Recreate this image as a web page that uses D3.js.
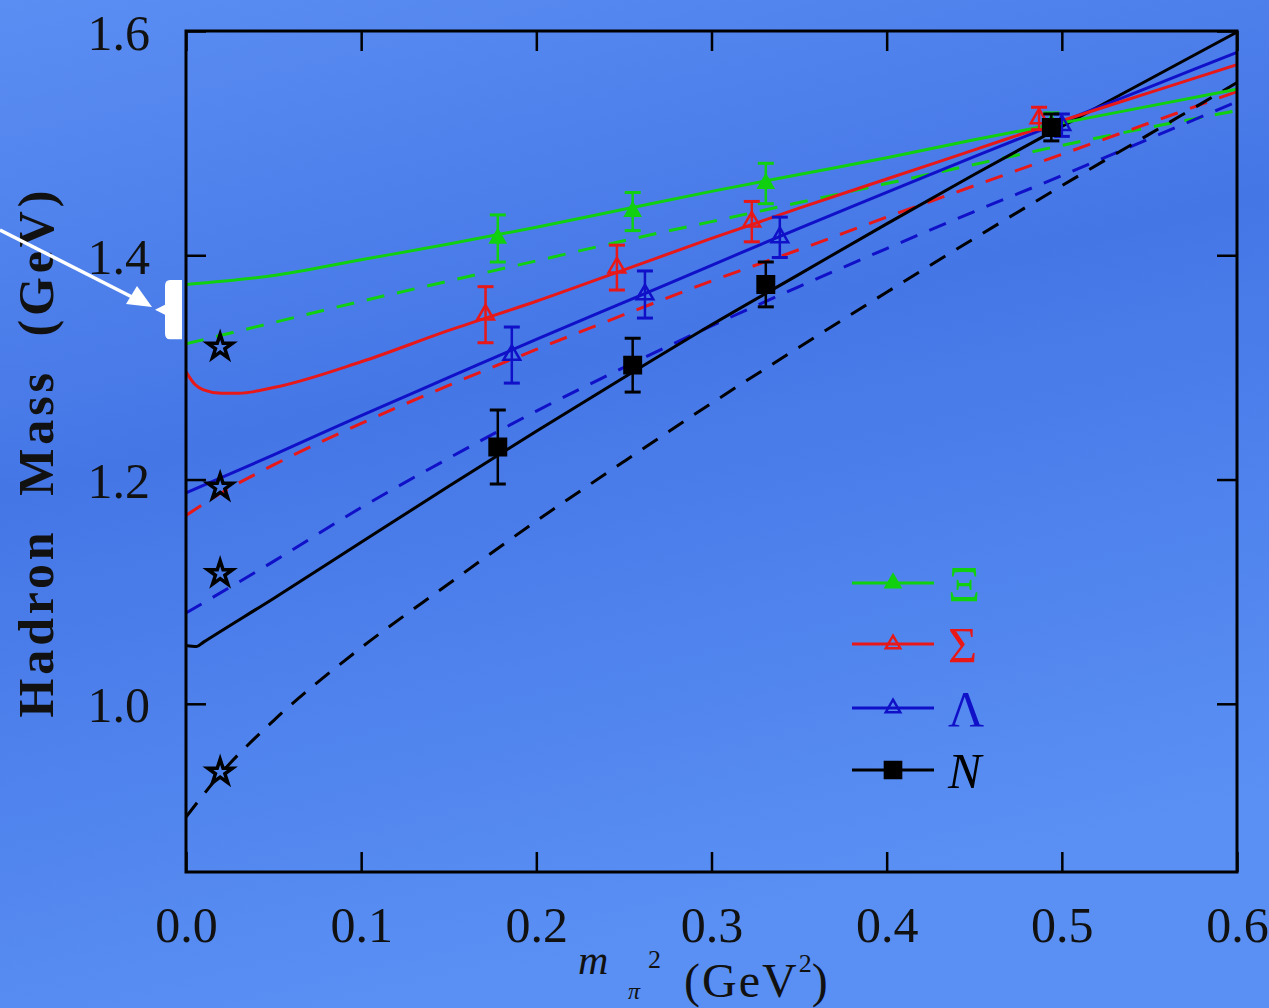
<!DOCTYPE html>
<html>
<head>
<meta charset="utf-8">
<script src="https://cdn.jsdelivr.net/npm/d3@7"></script>
<style>
  html, body { margin: 0; padding: 0; background: #4a7ce9; }
  svg { display: block; }
</style>
</head>
<body>
<div id="chart"></div>
<script>
// ---- data ----
const xTicks = [0.0, 0.1, 0.2, 0.3, 0.4, 0.5, 0.6];
const yTicks = [1.0, 1.2, 1.4, 1.6];

// curves: [m_pi^2, mass]
const xiFull = [[0,1.374],[0.05,1.382],[0.1,1.396],[0.15,1.410],[0.2,1.425],[0.25,1.441],[0.3,1.457],[0.35,1.472],[0.4,1.487],[0.45,1.503],[0.5,1.518],[0.55,1.533],[0.6,1.548]];
const xiDash = [[0,1.321],[0.05,1.340],[0.1,1.359],[0.15,1.377],[0.2,1.395],[0.25,1.413],[0.3,1.430],[0.35,1.447],[0.4,1.464],[0.45,1.481],[0.5,1.498],[0.55,1.514],[0.6,1.529]];
const sigmaFull = [[0,1.296],[0.005,1.285],[0.01,1.280],[0.02,1.277],[0.03,1.277],[0.05,1.282],[0.1,1.305],[0.15,1.333],[0.2,1.359],[0.25,1.387],[0.3,1.415],[0.35,1.442],[0.4,1.468],[0.45,1.494],[0.5,1.520],[0.55,1.545],[0.6,1.570]];
const sigmaDash = [[0,1.168],[0.02,1.188],[0.05,1.213],[0.1,1.250],[0.15,1.284],[0.2,1.316],[0.25,1.347],[0.3,1.377],[0.35,1.405],[0.4,1.434],[0.45,1.462],[0.5,1.490],[0.55,1.518],[0.6,1.546]];
const lambdaFull = [[0,1.188],[0.05,1.222],[0.1,1.257],[0.15,1.291],[0.2,1.325],[0.25,1.358],[0.3,1.391],[0.35,1.424],[0.4,1.456],[0.45,1.488],[0.5,1.519],[0.55,1.550],[0.6,1.581]];
const lambdaDash = [[0,1.081],[0.05,1.127],[0.1,1.175],[0.15,1.219],[0.2,1.261],[0.25,1.300],[0.3,1.337],[0.35,1.372],[0.4,1.406],[0.45,1.439],[0.5,1.471],[0.55,1.504],[0.6,1.537]];
const nucleonFull = [[0,1.052],[0.006,1.051],[0.01,1.055],[0.05,1.094],[0.1,1.144],[0.15,1.194],[0.2,1.243],[0.25,1.291],[0.3,1.338],[0.35,1.383],[0.4,1.428],[0.45,1.472],[0.5,1.515],[0.55,1.557],[0.6,1.599]];
const nucleonDash = [[0,0.899],[0.02,0.938],[0.05,0.985],[0.1,1.050],[0.15,1.107],[0.2,1.163],[0.25,1.216],[0.3,1.268],[0.35,1.318],[0.4,1.367],[0.45,1.415],[0.5,1.462],[0.55,1.508],[0.6,1.554]];

// lattice points: [m_pi^2, mass, error]
const xiPts = [[0.178,1.415,0.021],[0.255,1.439,0.017],[0.331,1.464,0.018],[0.494,1.517,0.010]];
const sigmaPts = [[0.171,1.347,0.025],[0.246,1.389,0.020],[0.323,1.430,0.018],[0.487,1.522,0.010]];
const lambdaPts = [[0.186,1.311,0.025],[0.262,1.365,0.021],[0.339,1.416,0.018],[0.500,1.516,0.010]];
const nucleonPts = [[0.178,1.229,0.033],[0.255,1.302,0.024],[0.331,1.374,0.020],[0.494,1.514,0.012]];

// physical masses (stars)
const physX = 0.0195;
const physMass = [1.318, 1.193, 1.116, 0.939];

const names = ["Ξ", "Σ", "Λ", "N"];
const colors = ["#10d010", "#e81818", "#1010c8", "#000000"];

const width = 1269, height = 1008;
const plotLeft = 186, plotRight = 1237, plotTop = 31, plotBottom = 872;

const svg = d3.select("#chart").append("svg")
  .attr("width", width)
  .attr("height", height)
  .attr("viewBox", [0, 0, width, height]);

// background
const defs = svg.append("defs");
const grad = defs.append("linearGradient").attr("id", "bg")
  .attr("x1", "0").attr("y1", "0").attr("x2", "0.3").attr("y2", "1");
grad.append("stop").attr("offset", "0").attr("stop-color", "#5b8ef3");
grad.append("stop").attr("offset", "0.45").attr("stop-color", "#4576e6");
grad.append("stop").attr("offset", "1").attr("stop-color", "#5a90f4");
svg.append("rect").attr("width", width).attr("height", height).attr("fill", "url(#bg)");
defs.append("clipPath").attr("id", "plotclip")
  .append("rect").attr("x", plotLeft).attr("y", plotTop)
  .attr("width", plotRight - plotLeft).attr("height", plotBottom - plotTop);

const x = d3.scaleLinear().domain([0, 0.6]).range([plotLeft, plotRight]);
const y = d3.scaleLinear().domain([0.85, 1.6]).range([plotBottom, plotTop]);

// axes
const fmt = d3.format(".1f");
const axisFont = "'Liberation Serif', 'DejaVu Serif', serif";

const styleAxis = (g) => {
  g.select(".domain").remove();
  g.selectAll(".tick line").attr("stroke", "#000").attr("stroke-width", 2.5);
  g.selectAll(".tick text").attr("fill", "#111").style("font-family", axisFont).style("font-size", "50px");
};

svg.append("g").attr("transform", `translate(0,${plotBottom})`)
  .call(d3.axisBottom(x).tickValues(xTicks).tickSize(-20).tickPadding(34).tickFormat(fmt))
  .call(styleAxis);
svg.append("g").attr("transform", `translate(0,${plotTop})`)
  .call(d3.axisTop(x).tickValues(xTicks).tickSize(-20).tickFormat(""))
  .call(styleAxis);
svg.append("g").attr("transform", `translate(${plotLeft},0)`)
  .call(d3.axisLeft(y).tickValues(yTicks).tickSize(-20).tickPadding(36).tickFormat(fmt))
  .call(styleAxis)
  .call(g => g.selectAll(".tick text").attr("dy", "0.36em"));
svg.append("g").attr("transform", `translate(${plotRight},0)`)
  .call(d3.axisRight(y).tickValues(yTicks).tickSize(-20).tickFormat(""))
  .call(styleAxis);

// curves
const line = d3.line().x(d => x(d[0])).y(d => y(d[1])).curve(d3.curveMonotoneX);
const curves = [
  { data: xiDash, c: 0, dash: "18,13" },
  { data: sigmaDash, c: 1, dash: "18,13" },
  { data: lambdaDash, c: 2, dash: "18,13" },
  { data: nucleonDash, c: 3, dash: "18,13" },
  { data: nucleonFull, c: 3, dash: null },
  { data: lambdaFull, c: 2, dash: null },
  { data: sigmaFull, c: 1, dash: null },
  { data: xiFull, c: 0, dash: null }
];
const plot = svg.append("g").attr("clip-path", "url(#plotclip)");
plot.selectAll("path.curve").data(curves).enter().append("path")
  .attr("class", "curve")
  .attr("d", d => line(d.data))
  .attr("fill", "none")
  .attr("stroke", d => colors[d.c])
  .attr("stroke-width", 3)
  .attr("stroke-dasharray", d => d.dash);

// error bars and markers
const series = [
  { pts: xiPts, c: 0, sym: d3.symbolTriangle, fill: true, size: 90 },
  { pts: sigmaPts, c: 1, sym: d3.symbolTriangle, fill: false, size: 120 },
  { pts: lambdaPts, c: 2, sym: d3.symbolTriangle, fill: false, size: 120 },
  { pts: nucleonPts, c: 3, sym: d3.symbolSquare, fill: true, size: 270 }
];
series.forEach(s => {
  const g = svg.append("g");
  const col = colors[s.c];
  const pt = g.selectAll("g").data(s.pts).enter().append("g");
  pt.append("line")
    .attr("x1", d => x(d[0])).attr("x2", d => x(d[0]))
    .attr("y1", d => y(d[1] + d[2])).attr("y2", d => y(d[1] - d[2]))
    .attr("stroke", col).attr("stroke-width", 2.5);
  pt.append("line")
    .attr("x1", d => x(d[0]) - 8).attr("x2", d => x(d[0]) + 8)
    .attr("y1", d => y(d[1] + d[2])).attr("y2", d => y(d[1] + d[2]))
    .attr("stroke", col).attr("stroke-width", 3);
  pt.append("line")
    .attr("x1", d => x(d[0]) - 8).attr("x2", d => x(d[0]) + 8)
    .attr("y1", d => y(d[1] - d[2])).attr("y2", d => y(d[1] - d[2]))
    .attr("stroke", col).attr("stroke-width", 3);
  pt.append("path")
    .attr("transform", d => `translate(${x(d[0])},${y(d[1])})`)
    .attr("d", d3.symbol().type(s.sym).size(s.size))
    .attr("fill", s.fill ? col : "none")
    .attr("stroke", col)
    .attr("stroke-width", 2.5);
});

// physical values
svg.append("g").selectAll("path").data(physMass).enter().append("path")
  .attr("transform", d => `translate(${x(physX)},${y(d)})`)
  .attr("d", d3.symbol().type(d3.symbolStar).size(190))
  .attr("fill", "none")
  .attr("stroke", "#000")
  .attr("stroke-width", 3.5);

// frame
svg.append("rect")
  .attr("x", plotLeft).attr("y", plotTop)
  .attr("width", plotRight - plotLeft).attr("height", plotBottom - plotTop)
  .attr("fill", "none").attr("stroke", "#000").attr("stroke-width", 3);

// legend
const legendY = [583, 644, 708, 770];
const leg = svg.append("g").selectAll("g").data(names).enter().append("g")
  .attr("transform", (d, i) => `translate(852,${legendY[i]})`);
leg.append("line").attr("x1", 0).attr("x2", 82)
  .attr("stroke", (d, i) => colors[i]).attr("stroke-width", 3);
leg.append("path")
  .attr("transform", "translate(41,0)")
  .attr("d", (d, i) => d3.symbol().type(series[i].sym).size(i === 3 ? 260 : 90)())
  .attr("fill", (d, i) => series[i].fill ? colors[i] : "none")
  .attr("stroke", (d, i) => colors[i]).attr("stroke-width", 2.5);
leg.append("text")
  .attr("x", 96).attr("y", 18)
  .attr("fill", (d, i) => colors[i])
  .style("font-family", axisFont)
  .style("font-size", "50px")
  .style("font-style", (d, i) => i === 3 ? "italic" : "normal")
  .text(d => d);

// axis titles
svg.append("text")
  .attr("transform", "translate(53,454) rotate(-90)")
  .attr("text-anchor", "middle")
  .attr("fill", "#111")
  .style("font-family", axisFont)
  .style("font-size", "50px")
  .style("font-weight", "bold")
  .style("white-space", "pre")
  .attr("textLength", 527)
  .attr("lengthAdjust", "spacing")
  .text("Hadron  Mass  (GeV)");

const xTitle = svg.append("text")
  .attr("fill", "#111")
  .style("font-family", axisFont);
xTitle.append("tspan").attr("x", 578).attr("y", 974)
  .style("font-size", "42px").style("font-style", "italic").text("m");
xTitle.append("tspan").attr("x", 628).attr("y", 999)
  .style("font-size", "24px").style("font-style", "italic").text("π");
xTitle.append("tspan").attr("x", 648).attr("y", 968)
  .style("font-size", "26px").text("2");
xTitle.append("tspan").attr("x", 684).attr("y", 997)
  .style("font-size", "48px").style("letter-spacing", "2px").text("(GeV");
xTitle.append("tspan").attr("y", 972)
  .style("font-size", "26px").style("letter-spacing", "0px").text("2");
xTitle.append("tspan").attr("y", 997)
  .style("font-size", "48px").text(")");

// annotation arrow and bracket
svg.append("line")
  .attr("x1", 0).attr("y1", 230).attr("x2", 134).attr("y2", 298)
  .attr("stroke", "#fff").attr("stroke-width", 3.5);
svg.append("path")
  .attr("d", "M152,307 L126,304 L137,286 Z")
  .attr("fill", "#fff");
const bTop = y(1.378), bBot = y(1.325), bMid = (bTop + bBot) / 2;
svg.append("path")
  .attr("d", `M182,${bTop} L170,${bTop} Q165,${bTop} 165,${bTop + 6} L165,${bMid - 5} L155,${bMid} L165,${bMid + 5} L165,${bBot - 6} Q165,${bBot} 170,${bBot} L182,${bBot} Z`)
  .attr("fill", "#fff");
</script>
</body>
</html>
